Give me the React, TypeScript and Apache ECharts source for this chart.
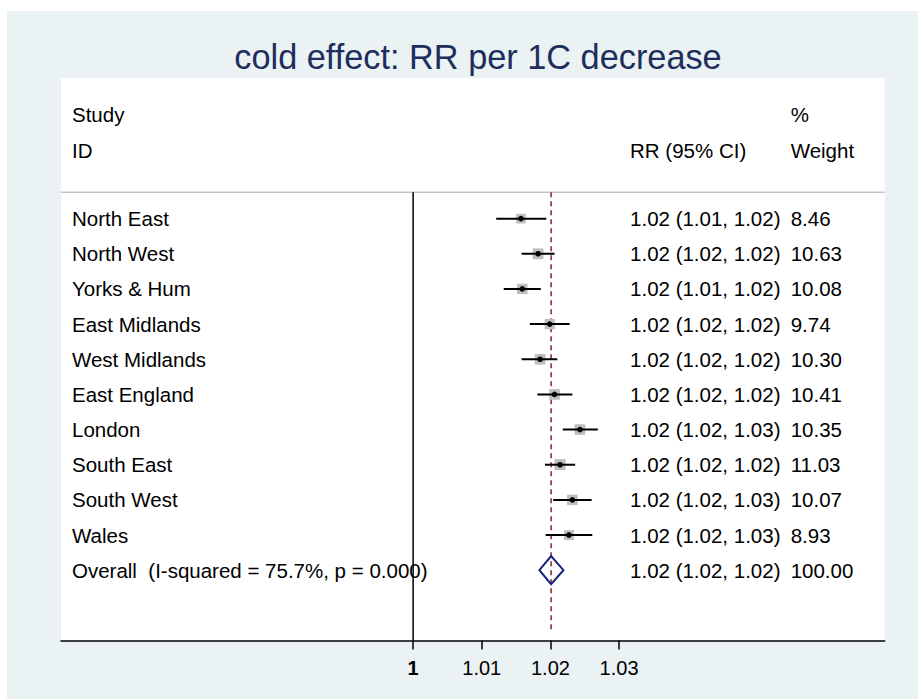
import React, { useEffect, useRef } from 'react';
import * as echarts from 'echarts';

// Regional cold effect estimates (RR per 1C decrease) with 95% CI and weights
const STUDIES = [
  'North East',
  'North West',
  'Yorks & Hum',
  'East Midlands',
  'West Midlands',
  'East England',
  'London',
  'South East',
  'South West',
  'Wales',
];
const RR = [1.0157, 1.0182, 1.0159, 1.0199, 1.0185, 1.0206, 1.0243, 1.0214, 1.0232, 1.0227];
const CI_LOW = [1.0121, 1.0158, 1.0132, 1.017, 1.0158, 1.0181, 1.0218, 1.0192, 1.0204, 1.0193];
const CI_HIGH = [1.0194, 1.0206, 1.0186, 1.0228, 1.021, 1.0232, 1.0269, 1.0236, 1.026, 1.0261];
const WEIGHTS = [8.46, 10.63, 10.08, 9.74, 10.3, 10.41, 10.35, 11.03, 10.07, 8.93];

const OVERALL_LABEL = 'Overall\u00a0\u00a0(I-squared = 75.7%, p = 0.000)';
const OVERALL_RR = 1.0201;
const OVERALL_LOW = 1.0184;
const OVERALL_HIGH = 1.0219;
const OVERALL_WEIGHT = 100;

const X_TICKS = [1, 1.01, 1.02, 1.03];
const TITLE = 'cold effect: RR per 1C decrease';

// Layout (axis units)
const X_MIN = 0.9487;
const X_MAX = 1.0687;
const COL_STUDY = 0.9503;
const COL_RR = 1.0316;
const COL_WEIGHT = 1.055;
const ROW_HEAD1 = -2.95;
const ROW_HEAD2 = -1.95;
const ROW_RULE = -0.75;
const ROW_OVERALL = STUDIES.length;

const FONT = '"Liberation Sans", Arial, Helvetica, sans-serif';
const TEXT_SIZE = 20.5;

const fmt = (v: number) => v.toFixed(2);
const rrText = (e: number, l: number, h: number) => `${fmt(e)} (${fmt(l)}, ${fmt(h)})`;

const TABLE_ROWS = [
  ...STUDIES.map((name, i) => ({
    row: i,
    name,
    rr: rrText(RR[i], CI_LOW[i], CI_HIGH[i]),
    weight: fmt(WEIGHTS[i]),
  })),
  {
    row: ROW_OVERALL,
    name: OVERALL_LABEL,
    rr: rrText(OVERALL_RR, OVERALL_LOW, OVERALL_HIGH),
    weight: fmt(OVERALL_WEIGHT),
  },
];

function text(x: number, y: number, s: string) {
  return {
    type: 'text',
    x,
    y,
    style: {
      text: s,
      fill: '#000',
      fontSize: TEXT_SIZE,
      fontFamily: FONT,
      textAlign: 'left',
      textVerticalAlign: 'middle',
      align: 'left',
      verticalAlign: 'middle',
    },
  };
}

export default function App() {
  const ref = useRef<HTMLDivElement>(null);

  useEffect(() => {
    const chart = echarts.init(ref.current!, null, { renderer: 'svg' });

    const option: any = {
      animation: false,
      backgroundColor: '#EAF2F3',
      title: {
        text: TITLE,
        left: 473,
        top: 35,
        textAlign: 'center',
        textStyle: {
          fontSize: 34.3,
          fontWeight: 'normal',
          fontFamily: FONT,
          color: '#1E2E5C',
        },
      },
      graphic: [
        { type: 'rect', left: 0, top: 0, shape: { width: 918, height: 11 }, style: { fill: '#fff' }, silent: true },
        { type: 'rect', left: 0, top: 0, shape: { width: 7, height: 699 }, style: { fill: '#fff' }, silent: true },
      ],
      grid: {
        left: 61,
        right: 33.3,
        top: 78,
        bottom: 58.5,
        show: true,
        backgroundColor: '#fff',
        borderWidth: 0,
      },
      xAxis: {
        type: 'value',
        min: X_MIN,
        max: X_MAX,
        axisLine: { show: true, onZero: false, lineStyle: { color: '#000', width: 1.5 } },
        axisTick: {
          show: true,
          customValues: X_TICKS,
          length: 9,
          lineStyle: { color: '#000', width: 1.5 },
        },
        axisLabel: {
          show: true,
          customValues: X_TICKS,
          margin: 17,
          color: '#000',
          fontSize: 20,
          fontFamily: FONT,
          formatter: (v: number) => (Math.abs(v - 1) < 1e-9 ? '{null|1}' : v.toFixed(2)),
          rich: {
            null: { fontSize: 20, fontWeight: 'bold', fontFamily: FONT, color: '#000' },
          },
        },
        splitLine: { show: false },
      },
      yAxis: {
        type: 'value',
        inverse: true,
        min: -4,
        max: 12,
        show: false,
      },
      series: [
        {
          // reference lines: header rule, null line, overall estimate
          type: 'custom',
          z: 1,
          data: [[OVERALL_RR, 0]],
          renderItem: (_p: any, api: any) => {
            const ruleL = api.coord([X_MIN, ROW_RULE]);
            const ruleR = api.coord([X_MAX, ROW_RULE]);
            const nullTop = api.coord([1, ROW_RULE]);
            const nullBot = api.coord([1, 12]);
            const ovTop = api.coord([api.value(0), ROW_RULE]);
            const ovBot = api.coord([api.value(0), 11.7]);
            return {
              type: 'group',
              children: [
                {
                  type: 'line',
                  shape: { x1: ruleL[0], y1: ruleL[1], x2: ruleR[0], y2: ruleR[1] },
                  style: { stroke: '#C4C4C4', lineWidth: 1.5 },
                },
                {
                  type: 'line',
                  shape: { x1: nullTop[0], y1: nullTop[1], x2: nullBot[0], y2: nullBot[1] },
                  style: { stroke: '#000', lineWidth: 1.5 },
                },
                {
                  type: 'line',
                  shape: { x1: ovTop[0], y1: ovTop[1], x2: ovBot[0], y2: ovBot[1] },
                  style: { stroke: '#8B1E2E', lineWidth: 1.5, lineDash: [5, 4] },
                },
              ],
            };
          },
        },
        {
          // per-study weight box, confidence interval and point estimate
          type: 'custom',
          z: 3,
          data: STUDIES.map((_, i) => [RR[i], CI_LOW[i], CI_HIGH[i], WEIGHTS[i], i]),
          encode: { x: [0, 1, 2], y: 4 },
          renderItem: (_p: any, api: any) => {
            const row = api.value(4);
            const pE = api.coord([api.value(0), row]);
            const pL = api.coord([api.value(1), row]);
            const pH = api.coord([api.value(2), row]);
            const side = 3.3 * Math.sqrt(api.value(3));
            return {
              type: 'group',
              children: [
                {
                  type: 'rect',
                  shape: { x: pE[0] - side / 2, y: pE[1] - side / 2, width: side, height: side },
                  style: { fill: '#BDBDBD' },
                },
                {
                  type: 'line',
                  shape: { x1: pL[0], y1: pL[1], x2: pH[0], y2: pH[1] },
                  style: { stroke: '#000', lineWidth: 2 },
                },
                {
                  type: 'circle',
                  shape: { cx: pE[0], cy: pE[1], r: 2.8 },
                  style: { fill: '#000' },
                },
              ],
            };
          },
        },
        {
          // pooled estimate diamond
          type: 'custom',
          z: 3,
          data: [[OVERALL_RR, OVERALL_LOW, OVERALL_HIGH, ROW_OVERALL]],
          encode: { x: [0, 1, 2], y: 3 },
          renderItem: (_p: any, api: any) => {
            const row = api.value(3);
            const h = 0.4;
            const pts = [
              api.coord([api.value(1), row]),
              api.coord([api.value(0), row - h]),
              api.coord([api.value(2), row]),
              api.coord([api.value(0), row + h]),
            ];
            return {
              type: 'polygon',
              shape: { points: pts },
              style: { fill: 'none', stroke: '#1B1F7E', lineWidth: 2 },
            };
          },
        },
        {
          // table text: study names, RR (95% CI), weights
          type: 'custom',
          z: 4,
          data: TABLE_ROWS.map((r) => [r.row]),
          renderItem: (p: any, api: any) => {
            const r = TABLE_ROWS[p.dataIndex];
            const row = api.value(0);
            const a = api.coord([COL_STUDY, row]);
            const b = api.coord([COL_RR, row]);
            const c = api.coord([COL_WEIGHT, row]);
            return {
              type: 'group',
              children: [text(a[0], a[1], r.name), text(b[0], b[1], r.rr), text(c[0], c[1], r.weight)],
            };
          },
        },
        {
          // column headers
          type: 'custom',
          z: 4,
          data: [[ROW_HEAD1, ROW_HEAD2]],
          renderItem: (_p: any, api: any) => {
            const r1 = api.value(0);
            const r2 = api.value(1);
            const s1 = api.coord([COL_STUDY, r1]);
            const s2 = api.coord([COL_STUDY, r2]);
            const rr2 = api.coord([COL_RR, r2]);
            const w1 = api.coord([COL_WEIGHT, r1]);
            const w2 = api.coord([COL_WEIGHT, r2]);
            return {
              type: 'group',
              children: [
                text(s1[0], s1[1], 'Study'),
                text(s2[0], s2[1], 'ID'),
                text(rr2[0], rr2[1], 'RR (95% CI)'),
                text(w1[0], w1[1], '%'),
                text(w2[0], w2[1], 'Weight'),
              ],
            };
          },
        },
      ],
    };

    chart.setOption(option);
    return () => chart.dispose();
  }, []);

  return <div ref={ref} style={{ position: 'absolute', left: 0, top: 0, width: 918, height: 699 }} />;
}
